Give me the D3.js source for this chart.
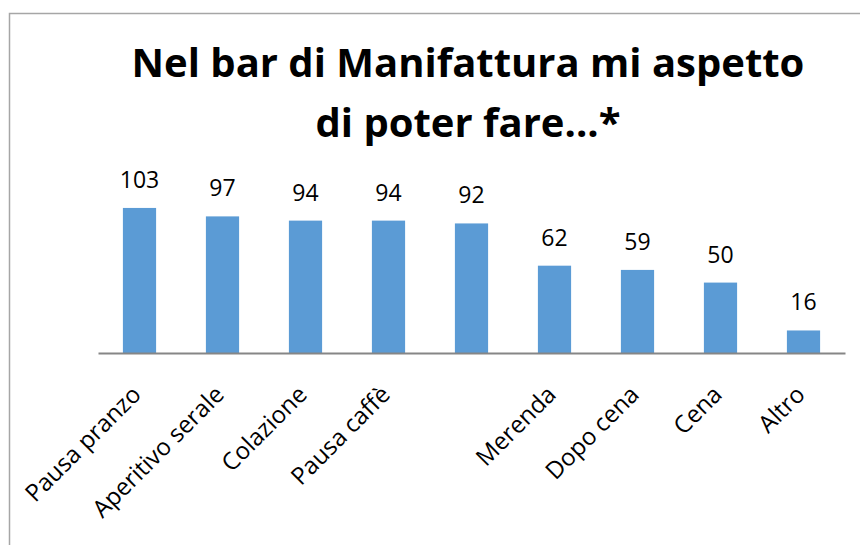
<!DOCTYPE html>
<html><head><meta charset="utf-8">
<script src="https://cdn.jsdelivr.net/npm/d3@7"></script>
<style>body{margin:0;background:#fff}svg{display:block}</style>
</head><body>
<script>
const categories = ["Pausa pranzo","Aperitivo serale","Colazione","Pausa caffè","","Merenda","Dopo cena","Cena","Altro"];
const values = [103,97,94,94,92,62,59,50,16];
const titleLines = ["Nel bar di Manifattura mi aspetto","di poter fare...*"];

const W=860,H=545;
const svg=d3.select("body").append("svg").attr("width",W).attr("height",H);
svg.append("rect").attr("x",0).attr("y",0).attr("width",W).attr("height",H).attr("fill","#fff");
// chart border
svg.append("path").attr("d","M9.5,545 V13.5 H870").attr("fill","none").attr("stroke","#a6a6a6").attr("stroke-width",1.5);

const idx=d3.range(categories.length);
const x=d3.scaleBand().domain(idx).range([98,845]).paddingInner(0.6).paddingOuter(0.3);
const y=d3.scaleLinear().domain([0,120]).range([353,184]);

svg.selectAll("rect.bar").data(idx).join("rect").attr("class","bar")
  .attr("x",i=>x(i)).attr("width",x.bandwidth())
  .attr("y",i=>y(values[i])).attr("height",i=>y(0)-y(values[i]))
  .attr("fill","#5b9bd5");

svg.selectAll("text.val").data(idx).join("text").attr("class","val")
  .attr("x",i=>x(i)+x.bandwidth()/2).attr("y",i=>y(values[i])-20)
  .attr("text-anchor","middle").attr("font-family","Open Sans").attr("font-size",23)
  .attr("fill","#000").text(i=>values[i]);

const ax=svg.append("g").attr("transform","translate(0,353)")
  .call(d3.axisBottom(x).tickSize(0).tickFormat(i=>categories[i]));
ax.select(".domain").attr("stroke","#868686").attr("stroke-width",2);
ax.selectAll("text").attr("font-family","Open Sans").attr("font-size",24).attr("fill","#000")
  .attr("text-anchor","end").attr("dy",0).attr("y",0).attr("x",0)
  .attr("transform",function(){return "translate(3,43) rotate(-45)";});

svg.append("text").attr("x",468).attr("text-anchor","middle")
  .attr("font-family","Open Sans").attr("font-weight","bold").attr("font-size",40).attr("fill","#000")
  .selectAll("tspan").data(titleLines).join("tspan")
  .attr("x",468).attr("y",(d,i)=>77+i*60).text(d=>d);
</script>
</body></html>
